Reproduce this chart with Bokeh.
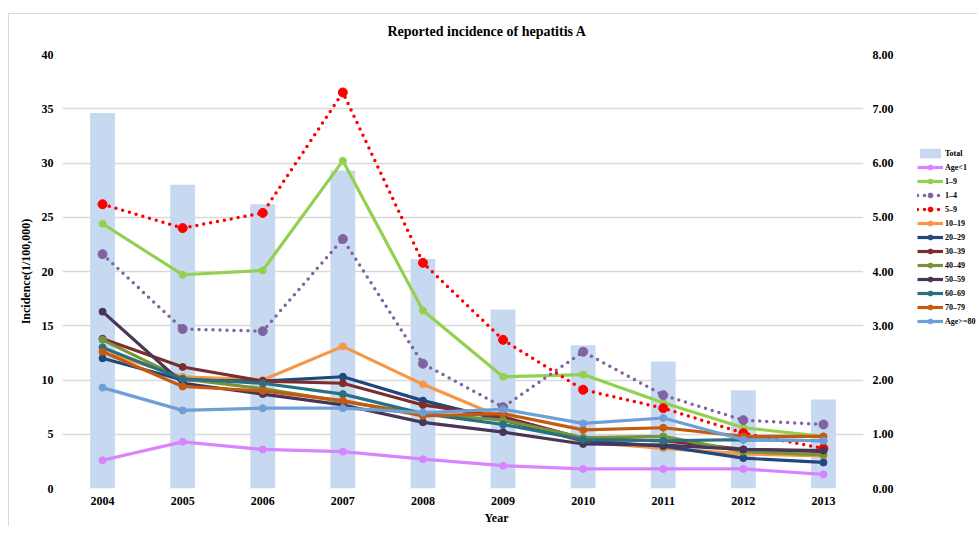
from bokeh.plotting import figure
from bokeh.layouts import row
from bokeh.models import (Range1d, LinearAxis, NumeralTickFormatter, FixedTicker,
                          Legend, LegendItem, Title, FactorRange)
from bokeh.embed import file_html
from bokeh.resources import INLINE

years = ["2004", "2005", "2006", "2007", "2008", "2009", "2010", "2011", "2012", "2013"]

# Total incidence (right axis, 1/100,000)
total = [6.92, 5.60, 5.24, 5.86, 4.23, 3.30, 2.64, 2.34, 1.81, 1.64]

# Age-group incidence (left axis, 1/100,000)
age_lt1 = [2.6, 4.3, 3.6, 3.4, 2.7, 2.1, 1.8, 1.8, 1.8, 1.3]
g1_9 = [24.4, 19.7, 20.1, 30.2, 16.4, 10.3, 10.5, 7.9, 5.6, 4.8]
g1_4 = [21.6, 14.7, 14.5, 23.0, 11.5, 7.5, 12.6, 8.6, 6.3, 5.9]
g5_9 = [26.2, 24.0, 25.4, 36.5, 20.8, 13.7, 9.1, 7.4, 5.1, 3.7]
g10_19 = [12.6, 10.3, 10.0, 13.1, 9.6, 6.5, 4.3, 3.7, 3.2, 3.0]
g20_29 = [12.0, 10.0, 9.9, 10.3, 8.1, 6.3, 4.4, 3.9, 2.8, 2.4]
g30_39 = [13.8, 11.2, 9.9, 9.7, 7.7, 6.6, 4.6, 4.4, 3.6, 3.4]
g40_49 = [13.7, 10.1, 9.2, 8.0, 6.9, 6.3, 4.7, 4.8, 3.4, 3.1]
g50_59 = [16.3, 9.7, 8.7, 7.7, 6.1, 5.2, 4.1, 4.0, 3.6, 3.5]
g60_69 = [13.0, 10.1, 9.7, 8.7, 6.9, 5.9, 4.5, 4.4, 4.5, 4.4]
g70_79 = [12.6, 9.4, 9.0, 8.1, 6.7, 6.9, 5.4, 5.6, 4.8, 4.8]
g80 = [9.3, 7.2, 7.4, 7.4, 7.0, 7.3, 6.0, 6.5, 4.5, 4.4]

series_names = ["Age<1", "1–9", "1–4", "5–9", "10–19", "20–29", "30–39",
                "40–49", "50–59", "60–69", "70–79", "Age>=80"]
series_values = [age_lt1, g1_9, g1_4, g5_9, g10_19, g20_29, g30_39,
                 g40_49, g50_59, g60_69, g70_79, g80]
series_colors = ["#D883FF", "#92D050", "#8064A2", "#FF0000", "#F79646", "#1F497D",
                 "#7C2D2D", "#77933C", "#483659", "#2A7180", "#C55A11", "#6E9FD6"]
series_dotted = [False, False, True, True, False, False, False, False, False, False, False, False]

left_ticks = [0, 5, 10, 15, 20, 25, 30, 35, 40]
right_ticks = [0, 1, 2, 3, 4, 5, 6, 7, 8]

FONT = "Liberation Serif"
BAR_COLOR = "#C6D9F1"


def draw_series(fig, y_right=None):
    """Draw bars + lines on fig; returns legend items."""
    kw = {"y_range_name": y_right} if y_right else {}
    out = []
    b = fig.vbar(x=years, top=total, width=0.31, fill_color=BAR_COLOR, line_color=None, **kw)
    out.append(LegendItem(label="Total", renderers=[b]))
    for name, vals, col, dotted in zip(series_names, series_values, series_colors, series_dotted):
        if dotted:
            ln = fig.line(years, vals, line_color=col, line_width=3.5, line_dash="0 7", line_cap="round")
            mk = fig.scatter(years, vals, size=9, fill_color=col, line_color=col)
        else:
            ln = fig.line(years, vals, line_color=col, line_width=3.2, line_join="round")
            mk = fig.scatter(years, vals, size=7, fill_color=col, line_color=col)
        out.append(LegendItem(label=name, renderers=[ln, mk]))
    return out


p = figure(width=900, height=526, x_range=FactorRange(*years), y_range=Range1d(0, 40),
           output_backend="svg", toolbar_location=None,
           min_border_left=62, min_border_right=37, min_border_top=54, min_border_bottom=38)
p.extra_y_ranges = {"right": Range1d(0, 8)}
p.outline_line_color = None
p.border_fill_alpha = 0
p.background_fill_color = "white"

p.title.text = "Reported incidence of hepatitis A"
p.title.align = "left"
p.title.offset = 325
p.title.standoff = 31
p.title.text_font = FONT
p.title.text_font_size = "14px"
p.title.text_font_style = "bold"
p.title.text_color = "black"

draw_series(p, "right")

# axes
p.yaxis.ticker = FixedTicker(ticks=left_ticks)
ax_r = LinearAxis(y_range_name="right", ticker=FixedTicker(ticks=right_ticks),
                  formatter=NumeralTickFormatter(format="0.00"))
p.add_layout(ax_r, "right")

for ax in [p.xaxis[0], p.yaxis[0], ax_r]:
    ax.axis_line_color = None
    ax.major_tick_line_color = None
    ax.minor_tick_line_color = None
    ax.major_tick_out = 0
    ax.major_label_text_font = FONT
    ax.major_label_text_font_size = "12px"
    ax.major_label_text_font_style = "bold"
    ax.major_label_text_color = "black"

p.yaxis[0].major_label_standoff = 9
ax_r.major_label_standoff = 9
p.xaxis[0].major_label_standoff = 8

p.yaxis[0].axis_label = "Incidence(1/100,000)"
p.yaxis[0].axis_label_text_font = FONT
p.yaxis[0].axis_label_text_font_size = "12px"
p.yaxis[0].axis_label_text_font_style = "bold"
p.yaxis[0].axis_label_text_color = "black"
p.yaxis[0].axis_label_standoff = 6

p.add_layout(Title(text="Year", align="left", offset=422, standoff=2, text_font=FONT,
                   text_font_size="12px", text_font_style="bold", text_color="black"), "below")

p.xgrid.visible = False
p.ygrid.grid_line_color = "#D9D9D9"
p.ygrid.grid_line_width = 1.5

# legend panel: same series drawn into a narrow plot whose view range shows none of them
q = figure(width=77, height=526, x_range=FactorRange(*years), y_range=Range1d(1000, 1001),
           output_backend="svg", toolbar_location=None,
           min_border=0, min_border_left=0, min_border_right=0,
           min_border_top=0, min_border_bottom=0)
q.extra_y_ranges = {"right": Range1d(1000, 1001)}
q.axis.visible = False
q.grid.visible = False
q.outline_line_color = None
q.border_fill_alpha = 0
q.background_fill_alpha = 0

items = draw_series(q, "right")

legend = Legend(items=items, location=(17, 161), padding=0, margin=0,
                border_line_color=None, background_fill_alpha=0,
                glyph_width=26, glyph_height=12, label_height=12, spacing=2,
                label_standoff=2, label_text_font=FONT, label_text_font_size="8px",
                label_text_font_style="bold", label_text_color="black")
q.add_layout(legend, "center")

layout = row(p, q)
layout.styles = {
    "background-color": "white",
    "background-image": "linear-gradient(#D9D9D9,#D9D9D9), linear-gradient(#D9D9D9,#D9D9D9)",
    "background-size": "100% 1px, 1px 100%",
    "background-position": "8px 13px, 8px 13px",
    "background-repeat": "no-repeat",
}

open("out.html", "w").write(file_html(layout, INLINE))
